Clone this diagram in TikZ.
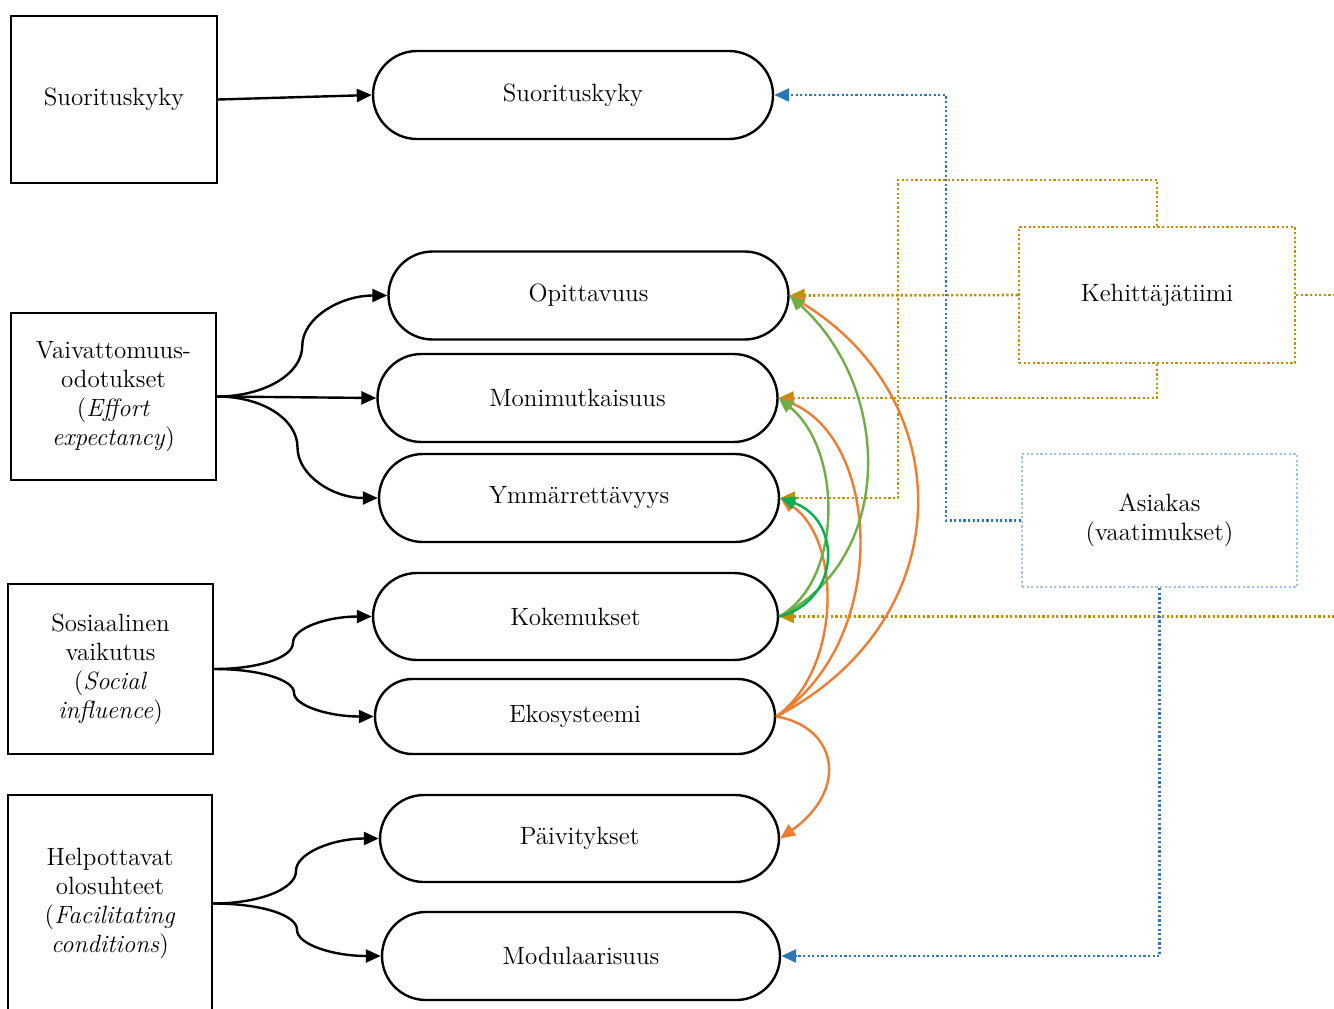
\documentclass[tikz,border=0pt]{standalone}
\usetikzlibrary{arrows.meta,calc}
\definecolor{teamgold}{HTML}{BF9000}
\definecolor{custblue}{HTML}{2E75B6}
\definecolor{custlight}{HTML}{9DC3E6}
\definecolor{linkorange}{HTML}{ED7D31}
\definecolor{linkgreen}{HTML}{70AD47}
\definecolor{linkbright}{HTML}{00B050}
\tikzset{
  tip/.style={-{Triangle[length=7.5pt,width=6.5pt]}},
  factor/.style={draw, line width=1.2pt, align=center, inner sep=2pt},
  pill/.style={draw, line width=1.2pt, minimum width=200pt, minimum height=44pt, rounded corners=22pt},
  actor/.style={draw, line width=1.2pt, dash pattern=on 1.1pt off 1.2pt, align=center},
  blk/.style={line width=1.2pt, tip},
  curvelink/.style={line width=1.2pt, tip},
  dots/.style={line width=1.3pt, dash pattern=on 1.1pt off 1.2pt, tip},
}
\begin{document}
\begin{tikzpicture}[x=0.5pt, y=-0.5pt, font=\fontsize{12.5}{14.5}\selectfont]
\useasboundingbox (0,0) rectangle (1334,1008);
\clip (0,0) rectangle (1334,1008);

% factor boxes (left column)
\node[factor, minimum width=103pt, minimum height=83.5pt] (f1) at (114,99.5) {Suorituskyky};
\node[factor, minimum width=102.5pt, minimum height=83.5pt] (f2) at (113.5,396.5)
  {Vaivattomuus-\\odotukset\\(\textit{Effort}\\\textit{expectancy})};
\node[factor, minimum width=102.5pt, minimum height=85pt] (f3) at (110.5,669)
  {Sosiaalinen\\vaikutus\\(\textit{Social}\\\textit{influence})};
\node[factor, minimum width=102pt, minimum height=108.5pt] (f4) at (110,903.5)
  {Helpottavat\\olosuhteet\\(\textit{Facilitating}\\\textit{conditions})};

% attribute pills (middle column)
\node[pill] (suo) at (573,95) {Suorituskyky};
\node[pill] (opit) at (588.5,295.5) {Opittavuus};
\node[pill] (mon) at (577.5,398) {Monimutkaisuus};
\node[pill] (ymm) at (579,498) {Ymmärrettävyys};
\node[pill, minimum width=202.5pt, minimum height=43.5pt] (kok) at (575.5,616.5) {Kokemukset};
\node[pill, minimum height=37.5pt, rounded corners=18.7pt] (eko) at (575,716.5) {Ekosysteemi};
\node[pill, minimum width=199.5pt, minimum height=43.5pt] (paiv) at (579.5,838.5) {Päivitykset};
\node[pill, minimum width=199pt] (mod) at (581,956) {Modulaarisuus};

% actors (right column)
\node[actor, draw=teamgold, minimum width=138pt, minimum height=68pt] (keh) at (1157,295) {Kehittäjätiimi};
\node[actor, draw=custlight, minimum width=137.5pt, minimum height=66.5pt] (asi) at (1159.5,520.5) {Asiakas\\(vaatimukset)};

% routing points of the dotted links
\coordinate (g1) at (898,180);
\coordinate (g2) at (1350,295);
\coordinate (b1) at (946,520.5);

% development team links
\draw[dots, teamgold] (keh.north) |- (g1) |- (ymm.east);
\draw[dots, teamgold] (keh.west) -- (opit.east);
\draw[dots, teamgold] (keh.south) |- (mon.east);
\draw[dots, teamgold] (keh.east) -- (g2) |- (kok.east);

% customer links
\draw[dots, custblue] (asi.west) -- (b1) |- (suo.east);
\draw[dots, custblue] (asi.south) |- (mod.east);

% factor to attribute links
\draw[blk] (f1.east) -- (suo.west);
\draw[blk] (f2.east) .. controls +(47,0) and +(0,28) .. ($(f2.east)!.5!(opit.west)$)
  .. controls +(0,-28) and +(-47,0) .. (opit.west);
\draw[blk] (f2.east) -- (mon.west);
\draw[blk] (f2.east) .. controls +(45,0) and +(0,-28) .. ($(f2.east)!.5!(ymm.west)$)
  .. controls +(0,28) and +(-45,0) .. (ymm.west);
\draw[blk] (f3.east) .. controls +(44,0) and +(0,15) .. ($(f3.east)!.5!(kok.west)$)
  .. controls +(0,-15) and +(-44,0) .. (kok.west);
\draw[blk] (f3.east) .. controls +(45,0) and +(0,-13) .. ($(f3.east)!.5!(eko.west)$)
  .. controls +(0,13) and +(-45,0) .. (eko.west);
\draw[blk] (f4.east) .. controls +(46,0) and +(0,18) .. ($(f4.east)!.5!(paiv.west)$)
  .. controls +(0,-18) and +(-46,0) .. (paiv.west);
\draw[blk] (f4.east) .. controls +(47,0) and +(0,-15) .. ($(f4.east)!.5!(mod.west)$)
  .. controls +(0,15) and +(-47,0) .. (mod.west);

% links from the ecosystem
\draw[curvelink, linkorange] (eko.east) .. controls +(185,-96) and +(171,104) .. (opit.east);
\draw[curvelink, linkorange] (eko.east) .. controls +(115,-76) and +(102,42) .. (mon.east);
\draw[curvelink, linkorange] (eko.east) .. controls +(65,-46) and +(62,42) .. (ymm.east);
\draw[curvelink, linkorange] (eko.east) .. controls +(60,10) and +(70,-50) .. (paiv.east);

% links from experiences
\draw[curvelink, linkgreen] (kok.east) .. controls +(115,-56) and +(104,94) .. (opit.east);
\draw[curvelink, linkgreen] (kok.east) .. controls +(64,-36) and +(64,52) .. (mon.east);
\draw[curvelink, linkbright] (kok.east) .. controls +(62,-16) and +(62,22) .. (ymm.east);
\end{tikzpicture}
\end{document}
